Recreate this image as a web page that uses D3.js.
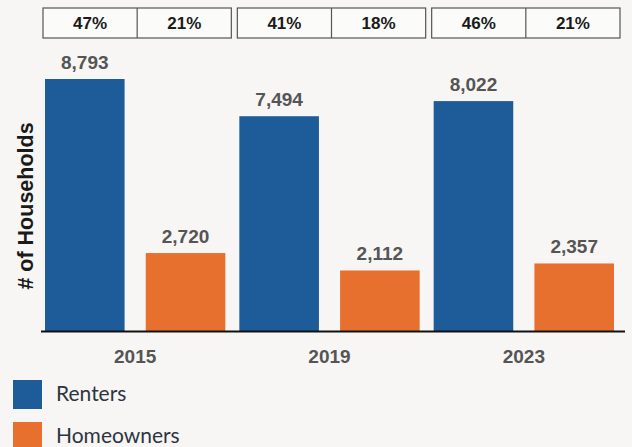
<!DOCTYPE html>
<html>
<head>
<meta charset="utf-8">
<script src="https://cdn.jsdelivr.net/npm/d3@7"></script>
<style>
  html, body { margin: 0; padding: 0; background: #f7f6f4; }
  svg { display: block; }
</style>
</head>
<body>
<svg id="chart" width="632" height="447"></svg>
<script>
// Household counts by tenure
const years = ["2015", "2019", "2023"];
const seriesNames = ["Renters", "Homeowners"];
const renters = [8793, 7494, 8022];
const homeowners = [2720, 2112, 2357];
// Share figures shown in the boxes above each year
const renterShare = ["47%", "41%", "46%"];
const ownerShare = ["21%", "18%", "21%"];

const colors = { Renters: "#1d5b99", Homeowners: "#e8702f" };

const svg = d3.select("#chart");
const W = 632, H = 447;
svg.append("rect").attr("width", W).attr("height", H).attr("fill", "#f7f6f4");

const baseY = 331;
const x0 = d3.scaleBand().domain(years).range([42, 625]).padding(0);
const x1 = d3.scaleBand().domain(seriesNames).range([3, x0.bandwidth() - 11]).paddingInner(0.21);
const y = d3.scaleLinear().domain([0, 8793]).range([baseY, 79]);

const rows = years.map((yr, i) => ({
  year: yr,
  values: [
    { key: "Renters", value: renters[i] },
    { key: "Homeowners", value: homeowners[i] }
  ],
  shares: [renterShare[i], ownerShare[i]]
}));

const fmt = d3.format(",");

// Bars and value labels
const g = svg.selectAll("g.year").data(rows).join("g")
  .attr("class", "year")
  .attr("transform", d => `translate(${x0(d.year)},0)`);

g.selectAll("rect.bar").data(d => d.values).join("rect")
  .attr("class", "bar")
  .attr("x", d => x1(d.key))
  .attr("width", x1.bandwidth())
  .attr("y", d => y(d.value))
  .attr("height", d => baseY - y(d.value))
  .attr("fill", d => colors[d.key]);

g.selectAll("text.val").data(d => d.values).join("text")
  .attr("class", "val")
  .attr("x", d => x1(d.key) + x1.bandwidth() / 2)
  .attr("y", d => y(d.value) - 10)
  .attr("text-anchor", "middle")
  .attr("font-family", "Liberation Sans, Arial, sans-serif")
  .attr("font-weight", "bold")
  .attr("font-size", 19)
  .attr("fill", "#555555")
  .text(d => fmt(d.value));

// Share boxes
const boxTop = 8, boxH = 30, boxL = 1, boxR = x0.bandwidth() - 5;
g.append("rect")
  .attr("x", boxL).attr("y", boxTop)
  .attr("width", boxR - boxL).attr("height", boxH)
  .attr("fill", "#fbfbfa").attr("stroke", "#555").attr("stroke-width", 1.2);
g.append("line")
  .attr("x1", (boxL + boxR) / 2).attr("x2", (boxL + boxR) / 2)
  .attr("y1", boxTop).attr("y2", boxTop + boxH)
  .attr("stroke", "#555").attr("stroke-width", 1.2);
g.selectAll("text.share").data(d => d.shares).join("text")
  .attr("class", "share")
  .attr("x", (d, i) => boxL + (boxR - boxL) * (i * 2 + 1) / 4)
  .attr("y", boxTop + boxH / 2 + 6)
  .attr("text-anchor", "middle")
  .attr("font-family", "Liberation Sans, Arial, sans-serif")
  .attr("font-weight", "bold")
  .attr("font-size", 17)
  .attr("fill", "#1a1a1a")
  .text(d => d);

// Baseline axis with year labels
const xAxis = svg.append("g")
  .attr("transform", `translate(0,${baseY})`)
  .call(d3.axisBottom(x0).tickSize(0).tickPadding(19));
xAxis.select(".domain").attr("d", `M41,0.5H625`).attr("stroke", "#111").attr("stroke-width", 2);
xAxis.selectAll("text")
  .attr("dx", -4)
  .attr("font-family", "Liberation Sans, Arial, sans-serif")
  .attr("font-weight", "bold")
  .attr("font-size", 19)
  .attr("fill", "#555555");

// Y axis title
svg.append("text")
  .attr("transform", "translate(33,206) rotate(-90)")
  .attr("text-anchor", "middle")
  .attr("font-family", "Liberation Sans, Arial, sans-serif")
  .attr("font-weight", "bold")
  .attr("font-size", 21.5)
  .attr("fill", "#1a1a1a")
  .text("# of Households");

// Legend
const legend = svg.selectAll("g.legend").data(seriesNames).join("g")
  .attr("class", "legend")
  .attr("transform", (d, i) => `translate(13,${380 + i * 42})`);
legend.append("rect").attr("width", 29).attr("height", 29).attr("fill", d => colors[d]);
legend.append("text")
  .attr("x", 43).attr("y", 21)
  .attr("font-family", "Lato, Open Sans, sans-serif")
  .attr("font-size", 21)
  .attr("fill", "#2d3540")
  .text(d => d);
</script>
</body>
</html>
